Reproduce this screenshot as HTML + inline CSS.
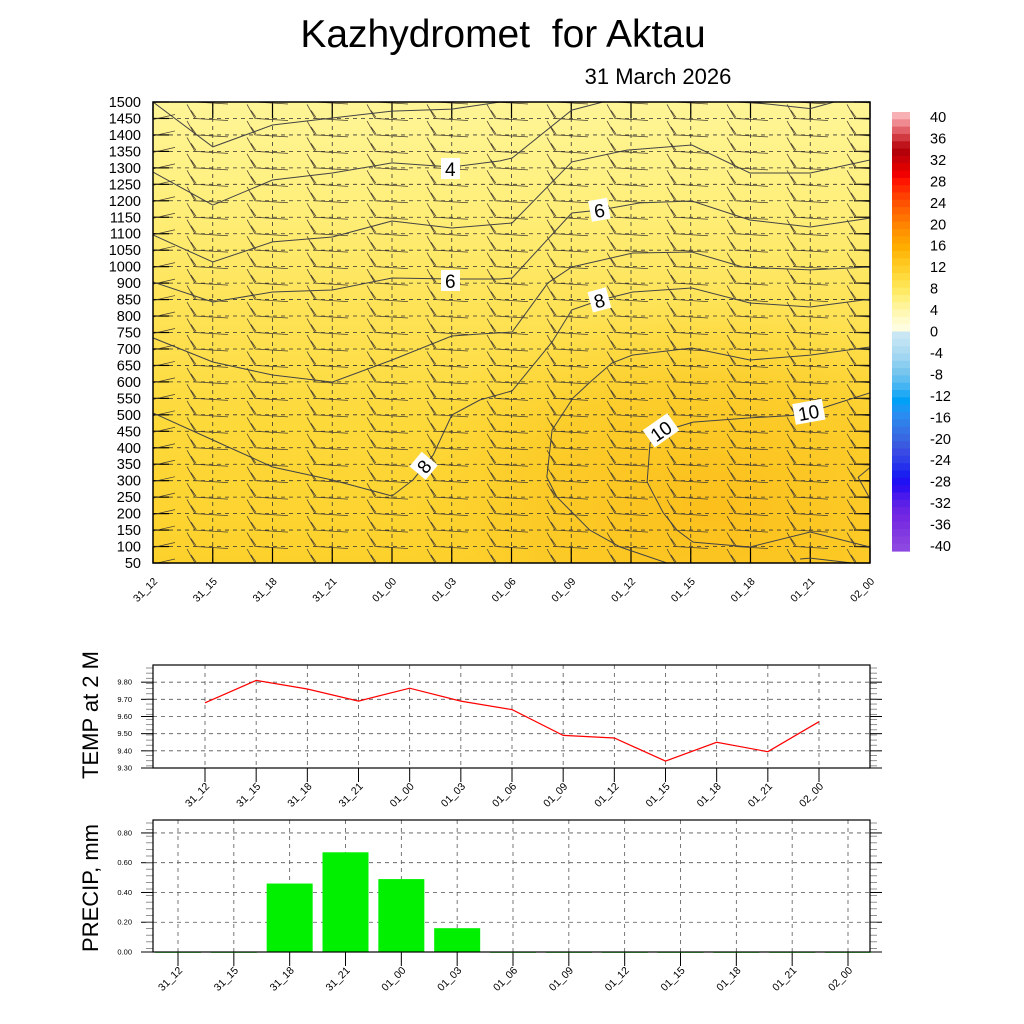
<!DOCTYPE html>
<html><head><meta charset="utf-8"><style>
body{margin:0;background:#fff;}
svg{display:block;font-family:"Liberation Sans",sans-serif;}
</style></head><body>
<svg id="svg" width="1024" height="1024" viewBox="0 0 1024 1024" xmlns="http://www.w3.org/2000/svg">
<defs>
<linearGradient id="fillv" x1="0" y1="0" x2="0" y2="1">
<stop offset="0" stop-color="#fff597"/><stop offset="0.2" stop-color="#fff07e"/>
<stop offset="0.42" stop-color="#fee45a"/><stop offset="0.7" stop-color="#fdd93a"/><stop offset="1" stop-color="#fdd12c"/>
</linearGradient>
<radialGradient id="warm" cx="0.78" cy="0.88" r="0.45">
<stop offset="0" stop-color="#fcbf1c" stop-opacity="1"/><stop offset="0.6" stop-color="#fcc824" stop-opacity="0.7"/><stop offset="1" stop-color="#fdd12c" stop-opacity="0"/>
</radialGradient>
<clipPath id="plotclip"><rect x="153" y="102" width="717" height="461"/></clipPath>
</defs>
<text x="503" y="47" font-size="39" text-anchor="middle" style="white-space:pre" xml:space="preserve">Kazhydromet  for Aktau</text>
<text x="658" y="84" font-size="22" text-anchor="middle">31 March 2026</text>
<g id="top"></g>
<g id="cb"></g>
<g id="temp"></g>
<g id="prec"></g>
</svg>
<script>
const NS="http://www.w3.org/2000/svg";
const times=["31_12","31_15","31_18","31_21","01_00","01_03","01_06","01_09","01_12","01_15","01_18","01_21","02_00"];
const levels=[1500,1450,1400,1350,1300,1250,1200,1150,1100,1050,1000,900,850,800,750,700,650,600,550,500,450,400,350,300,250,200,150,100,50];
const tempVals=[9.68,9.81,9.76,9.69,9.765,9.69,9.64,9.49,9.475,9.34,9.45,9.395,9.57];
const tempTicks=[9.30,9.40,9.50,9.60,9.70,9.80];
const precVals=[0,0,0.46,0.67,0.49,0.16,0,0,0,0,0,0,0];
const precTicks=[0,0.2,0.4,0.6,0.8];
const cbLabels=[40,36,32,28,24,20,16,12,8,4,0,-4,-8,-12,-16,-20,-24,-28,-32,-36,-40];
// contour lines as [time index (fractional), level index (fractional)]
const contour3=[[0,0],[1,2.73],[2,1.4],[3,0.97],[4,0.55],[5,0.43],[5.81,0]];
const contour3b=[[9.99,0],[11,0.4],[11.4,0]];
const contour4=[[0,4.25],[1,6.26],[2,4.74],[3,4.31],[4,3.7],[5,3.95],[5.81,3.58],[6.01,3.4],[7.01,0.49],[7.53,0]];
const contour5=[[0,8.08],[1,9.72],[2,8.5],[3,8.2],[4,7.23],[5,7.65],[5.81,7.41],[6.01,7.35],[7.01,3.64],[7.93,2.92],[9.02,2.61],[9.99,4.31],[11,4.31],[12,3.52]];
const contour6=[[0,10.93],[1,12.15],[2,11.54],[3,11.42],[4,10.69],[5,10.75],[5.81,10.75],[6.01,10.69],[7.01,6.74],[7.48,6.56],[8.15,6.13],[9.02,6.01],[9.99,7.17],[11,7.59],[12,7.05]];
const contour7=[[0,14.33],[1,15.79],[2,16.58],[3,17.01],[4,15.67],[5,14.21],[5.47,14.09],[6.01,13.97],[6.61,10.99],[7.01,10.02],[8.03,9.17],[9.02,9.11],[9.87,10.02],[11,10.2],[12,10.02]];
const contour8=[[0,18.89],[1,20.53],[2,22.17],[3,22.96],[4,23.93],[4.35,22.96],[4.69,21.44],[5,19.01],[5.47,18.1],[6.01,17.55],[6.68,14.58],[7.01,12.63],[7.48,12.03],[8.03,11.54],[9.02,11.3],[9.99,12.21],[11,12.45],[12,11.97]];
const contour9=[[8.6,28],[7.82,27.03],[7.31,26],[6.76,23.99],[6.59,22.78],[6.68,19.92],[7.03,17.98],[7.35,16.9],[7.68,15.85],[8.02,15.37],[9.02,14.94],[9.99,15.67],[11,15.37],[12,14.88]];
const contour10=[[8.77,19.74],[8.32,20.71],[8.27,23.08],[8.4,23.99],[8.54,24.96],[8.77,26],[9.04,26.73],[9.99,27.03],[11,26.12],[12,27.03]];
const contour10b=[[8.77,19.74],[9.04,19.44],[9.99,19.19],[10.83,19.01],[11.25,18.53],[12,17.67]];
const contourLow=[[10.83,27.76],[11,27.7],[11.7,28]];
const contourEdge=[[11.8,22.8],[12,22.2]];
const contourEdge2=[[11.8,22.8],[12,24.1]];

const svg=document.getElementById('svg');
function el(tag,attrs,parent,txt){const e=document.createElementNS(NS,tag);for(const k in attrs)e.setAttribute(k,attrs[k]);if(txt!==undefined)e.textContent=txt;parent.appendChild(e);return e;}

// ---------- top panel ----------
const T=document.getElementById('top');
const L=153,R=870,TOP=102,BOT=563;
const xT=i=>L+i*(R-L)/(times.length-1);
const yL=j=>TOP+j*(BOT-TOP)/(levels.length-1);
let bg=el('rect',{x:L,y:TOP,width:R-L,height:BOT-TOP,fill:'url(#fillv)'},T);


let w=el('rect',{x:L,y:TOP,width:R-L,height:BOT-TOP,fill:'url(#warm)'},T);


levels.forEach((lv,j)=>{
  const y=yL(j);
  let g=el('line',{x1:L,y1:y,x2:R,y2:y,stroke:'#333','stroke-width':0.8,'stroke-dasharray':'4,4'},T);
  
  
  el('line',{x1:L,y1:y,x2:L+16,y2:y,stroke:'#000','stroke-width':1.2},T);
  el('line',{x1:R-16,y1:y,x2:R,y2:y,stroke:'#000','stroke-width':1.2},T);
  let t=el('text',{x:L-12,y:y+5,'font-size':14.5,'text-anchor':'end'},T,String(lv));
  
  
});
times.forEach((tm,i)=>{
  const x=xT(i);
  let g=el('line',{x1:x,y1:TOP,x2:x,y2:BOT,stroke:'#333','stroke-width':0.8,'stroke-dasharray':'4,4'},T);
  
  
  el('line',{x1:x,y1:TOP,x2:x,y2:TOP+16,stroke:'#000','stroke-width':1.2},T);
  el('line',{x1:x,y1:BOT-16,x2:x,y2:BOT,stroke:'#000','stroke-width':1.2},T);
  let t=el('text',{x:0,y:0,'font-size':10.5,'text-anchor':'end',transform:`translate(${x+5},${BOT+19}) rotate(-45)`},T,tm);
  
  
});
// wind barbs
const BG=el('g',{'clip-path':'url(#plotclip)'},T);
levels.forEach((lv,j)=>{
  const y=yL(j);
  for(let i=-1;i<12;i++){
    let d;
    if(i<0){d=`M${L},${y+1} L${L+22},${y-4}`;}
    else{const vx=L+60*i+42;d=`M${vx-8},${y-14} L${vx},${y} L${vx+33},${y+2} M${vx-4},${y-8} L${vx+1},${y-1}`;}
    let b=el('path',{d:d,stroke:'#4a4030','stroke-width':0.75,fill:'none'},BG);
    
    
  }
});
function drawContour(pts){
  const d=pts.map((p,k)=>(k?'L':'M')+xT(p[0]).toFixed(1)+','+yL(p[1]).toFixed(1)).join(' ');
  let c=el('path',{d:d,stroke:'#444','stroke-width':1,fill:'none','clip-path':'url(#plotclip)'},T);
  
  
}
[contour3,contour3b,contour4,contour5,contour6,contour7,contour8,contour9,contour10,contour10b,contourLow,contourEdge,contourEdge2].forEach(drawContour);
function clabel(x,y,txt,rot){
  const g=el('g',{transform:`translate(${x},${y}) rotate(${rot})`},T);
  
  
  el('rect',{x:-11,y:-11,width:txt.length*11+8,height:21,fill:'#fff'},g);
  el('text',{x:-7,y:7,'font-size':19},g,txt);
}
clabel(452,169,'4',0);clabel(601,210,'6',-10);clabel(452,281,'6',0);clabel(601,300,'8',-15);
clabel(425,465,'8',-50);clabel(658,433,'10',-35);clabel(805,413,'10',-10);
let fr=el('rect',{x:L,y:TOP,width:R-L,height:BOT-TOP,fill:'none',stroke:'#000','stroke-width':1.5},T);



// ---------- colorbar ----------
const CB=document.getElementById('cb');
const cbTop=112,cbBot=551,cbX=892,cbW=18;
const cbColors=["#f7b0b4","#ef8a90","#e26068","#d03a40","#c0141c","#b40008","#c80008","#dc0000","#f00000","#ff1400","#ff2a00","#ff4000","#ff5200","#ff6400","#ff7400","#ff8400","#ff9400","#ffa200","#ffae00","#ffba10","#ffc61e","#ffd02c","#ffda3c","#ffe250","#ffea66","#fff080","#fff49a","#fff8b4","#fffbcc","#fffde0",
"#c8e6f4","#bde2f3","#b0dcf2","#a0d6f2","#8cceef","#78c6ee","#60bef0","#44b4f2","#22aaf4","#00a0f6","#1898f4","#2a8cf0","#3080ea","#3474e6","#3868e2","#3a5ae0","#3a4ae4","#3040e8","#2430ec","#1a20f0","#2010f4","#3010f0","#4818ec","#5a20e8","#6a24e4","#7428e2","#7a30e0","#8038e0","#8840e0","#8c48e0"];
const seg=(cbBot-cbTop)/cbColors.length;
cbColors.forEach((c,k)=>{
  let r=el('rect',{x:cbX,y:(cbTop+k*seg).toFixed(2),width:cbW,height:(seg+0.6).toFixed(2),fill:c},CB);
  
  
});
cbLabels.forEach((v,k)=>{
  const y=117+k*(546-117)/(cbLabels.length-1);
  let t=el('text',{x:930,y:y+5,'font-size':14.5},CB,String(v));
  
  
});

// ---------- small panels ----------
function panel(gid,top,bot,ymin,ymax,ticks,x0,x1,title,titleY){
  const G=document.getElementById(gid);
  const y=v=>bot-(v-ymin)/(ymax-ymin)*(bot-top);
  const x=i=>x0+i*(x1-x0)/(times.length-1);
  ticks.forEach(v=>{
    let g=el('line',{x1:L,y1:y(v),x2:R,y2:y(v),stroke:'#555','stroke-width':0.8,'stroke-dasharray':'4,4'},G);
    
    
    el('line',{x1:L-12,y1:y(v),x2:L,y2:y(v),stroke:'#000'},G);
    el('line',{x1:R,y1:y(v),x2:R+12,y2:y(v),stroke:'#000'},G);
    let t=el('text',{x:L-21,y:y(v)+2.5,'font-size':7.5,'text-anchor':'end'},G,v.toFixed(2));
    
    
  });
  for(let yy=top+3;yy<bot;yy+=(bot-top)/20){
    el('line',{x1:L-7,y1:yy,x2:L,y2:yy,stroke:'#777','stroke-width':0.8},G);
    el('line',{x1:R,y1:yy,x2:R+7,y2:yy,stroke:'#777','stroke-width':0.8},G);
  }
  times.forEach((tm,i)=>{
    let g=el('line',{x1:x(i),y1:top,x2:x(i),y2:bot,stroke:'#555','stroke-width':0.8,'stroke-dasharray':'4,4'},G);
    
    
    el('line',{x1:x(i),y1:bot,x2:x(i),y2:bot+14,stroke:'#000'},G);
    let t=el('text',{x:0,y:0,'font-size':10.5,'text-anchor':'end',transform:`translate(${x(i)+5},${bot+19}) rotate(-45)`},G,tm);
    
    
  });
  let tt=el('text',{x:0,y:0,'font-size':22,'text-anchor':'middle',transform:`translate(98,${titleY}) rotate(-90)`},G,title);
  
  
  return {G,x,y};
}
const tp=panel('temp',665,768,9.30,9.90,tempTicks,205,819,'TEMP at 2 M',715);
const tpts=tempVals.map((v,i)=>tp.x(i).toFixed(1)+','+tp.y(v).toFixed(1)).join(' ');
let tl=el('polyline',{points:tpts,fill:'none',stroke:'#f00','stroke-width':1.2},tp.G);


let f1=el('rect',{x:L,y:665,width:R-L,height:103,fill:'none',stroke:'#000','stroke-width':1.2},tp.G);



const pp=panel('prec',820,952,0,0.887,precTicks,178,848,'PRECIP, mm',888);
precVals.forEach((v,i)=>{
  const yv=pp.y(v);
  let b=el('rect',{x:pp.x(i)-23,y:yv,width:46,height:Math.max(952-yv,0.8),fill:'#00f000'},pp.G);
  
  
});
let f2=el('rect',{x:L,y:820,width:R-L,height:132,fill:'none',stroke:'#000','stroke-width':1.2},pp.G);


</script>
</body></html>
